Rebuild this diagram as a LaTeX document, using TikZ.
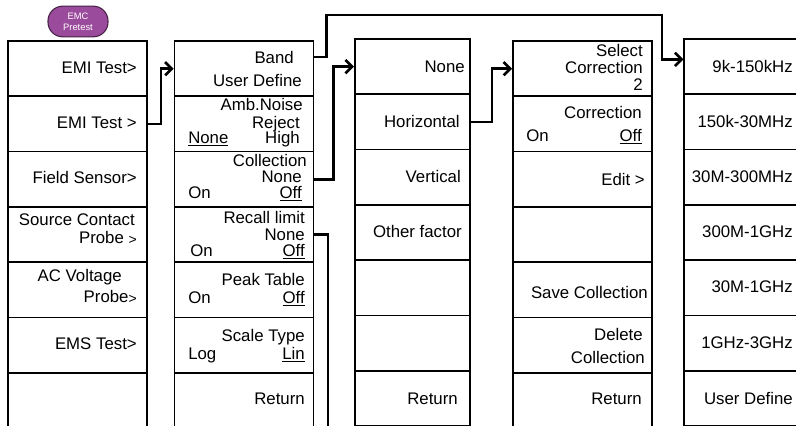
\documentclass[tikz,border=0pt]{standalone}
\usepackage{fontspec}
\setmainfont{Liberation Sans}
\usetikzlibrary{arrows.meta,positioning}
\definecolor{emcfill}{RGB}{155,75,155}
\definecolor{emcline}{RGB}{70,35,70}
\newcommand{\smallgt}{{\fontsize{10.5}{12}\selectfont\raisebox{-1pt}{>}}}

\begin{document}
\begin{tikzpicture}[x=0.75pt, y=-0.75pt,
    cell/.style={draw, line width=1.3pt, minimum height=41.5pt, inner sep=0pt},
    wide/.style={cell, minimum width=104.25pt},
    narrow/.style={cell, minimum width=86.5pt},
    rt/.style={anchor=mid east, inner sep=0pt, font=\fontsize{12.6}{14}\selectfont},
    lt/.style={anchor=mid west, inner sep=0pt, font=\fontsize{12.6}{14}\selectfont},
    link/.style={line width=2pt, -{Straight Barb[length=5pt, width=10pt]}},
    softkey/.style={draw=emcline, fill=emcfill, line width=0.8pt, rounded corners=11pt, minimum width=45pt, minimum height=23pt, inner sep=0pt, align=center, text=white, font=\fontsize{7}{8.5}\selectfont}
]
\useasboundingbox (0,0) rectangle (796,425);
\node[softkey] (emc) at (78,21.5) {EMC\\Pretest};
\node[wide] (c1r1) at (77.5,68.65) {};
\node[wide] (c1r2) at (77.5,123.95) {};
\node[wide] (c1r3) at (77.5,179.25) {};
\node[wide] (c1r4) at (77.5,234.55) {};
\node[wide] (c1r5) at (77.5,289.85) {};
\node[wide] (c1r6) at (77.5,345.15) {};
\node[wide] (c1r7) at (77.5,400.45) {};
\node[wide] (c2r1) at (244,68.65) {};
\node[wide] (c2r2) at (244,123.95) {};
\node[wide] (c2r3) at (244,179.25) {};
\node[wide] (c2r4) at (244,234.55) {};
\node[wide] (c2r5) at (244,289.85) {};
\node[wide] (c2r6) at (244,345.15) {};
\node[wide] (c2r7) at (244,400.45) {};
\node[narrow] (c3r1) at (412.5,66.65) {};
\node[narrow] (c3r2) at (412.5,121.95) {};
\node[narrow] (c3r3) at (412.5,177.25) {};
\node[narrow] (c3r4) at (412.5,232.55) {};
\node[narrow] (c3r5) at (412.5,287.85) {};
\node[narrow] (c3r6) at (412.5,343.15) {};
\node[narrow] (c3r7) at (412.5,398.45) {};
\node[wide] (c4r1) at (582.5,68.65) {};
\node[wide] (c4r2) at (582.5,123.95) {};
\node[wide] (c4r3) at (582.5,179.25) {};
\node[wide] (c4r4) at (582.5,234.55) {};
\node[wide] (c4r5) at (582.5,289.85) {};
\node[wide] (c4r6) at (582.5,345.15) {};
\node[wide] (c4r7) at (582.5,400.45) {};
\node[narrow] (c5r1) at (742,66.65) {};
\node[narrow] (c5r2) at (742,121.95) {};
\node[narrow] (c5r3) at (742,177.25) {};
\node[narrow] (c5r4) at (742,232.55) {};
\node[narrow] (c5r5) at (742,287.85) {};
\node[narrow] (c5r6) at (742,343.15) {};
\node[narrow] (c5r7) at (742,398.45) {};

\node[rt] at (137,70) {EMI Test>};
\node[rt] at (137,124.5) {EMI Test >};
\node[rt] at (137,180) {Field Sensor>};
\node[rt] at (135,222) {Source Contact};
\node[rt] at (137,240) {Probe \smallgt};
\node[rt] at (122,278) {AC Voltage};
\node[rt] at (137,299) {Probe\smallgt};
\node[rt] at (137,346) {EMS Test>};

\node[rt] (band) at (294,59.5) {Band};
\node[rt] at (302,83) {User Define};
\node[rt] at (303,107) {Amb.Noise};
\node[rt] at (300,124.5) {Reject};
\node[lt] at (188,140) {\underline{None}};
\node[rt] at (300,140) {High};
\node[rt] at (307,163) {Collection};
\node[rt] at (302,178.5) {None};
\node[lt] at (188,195) {On};
\node[rt] at (302,195) {\underline{Off}};
\node[rt] at (305,220) {Recall limit};
\node[rt] (rlnone) at (305,237) {None};
\node[lt] at (190,253) {On};
\node[rt] at (305,253) {\underline{Off}};
\node[rt] at (305,282) {Peak Table};
\node[lt] at (188,300) {On};
\node[rt] at (305,300) {\underline{Off}};
\node[rt] at (305,338) {Scale Type};
\node[lt] at (188,356) {Log};
\node[rt] at (305,356) {\underline{Lin}};
\node[rt] at (305,401) {Return};

\node[rt] at (465,69) {None};
\node[rt] at (460,124) {Horizontal};
\node[rt] at (461,179) {Vertical};
\node[rt] at (462,234) {Other factor};
\node[rt] at (458,401) {Return};

\node[rt] at (643,53) {Select};
\node[rt] at (643,70) {Correction};
\node[rt] at (643,87) {2};
\node[rt] at (642,115) {Correction};
\node[lt] at (526,138) {On};
\node[rt] at (642,138) {\underline{Off}};
\node[rt] at (645,182) {Edit >};
\node[rt] at (648,295) {Save Collection};
\node[rt] at (643,337) {Delete};
\node[rt] at (645,360) {Collection};
\node[rt] at (642,401) {Return};

\node[rt] at (793,69) {9k-150kHz};
\node[rt] at (793,124) {150k-30MHz};
\node[rt] at (793,179) {30M-300MHz};
\node[rt] at (793,234) {300M-1GHz};
\node[rt] at (793,289) {30M-1GHz};
\node[rt] at (793,345) {1GHz-3GHz};
\node[rt] at (793,401) {User Define};

\coordinate (rlend) at (328,432);
\draw[link] (c1r2.east) -- ++(13,0) |- (c2r1.west);
\draw[link] (c2r1.east |- band) -- ++(12,0) |- (662,15) |- ([yshift=5.5pt]c5r1.west);
\draw[link] (c2r3.east) -- ++(19,0) |- (c3r1.west);
\draw[link] (c3r2.east) -- ++(21,0) |- (c4r1.west);
\draw[line width=2pt] (c2r4.east |- rlnone) -| (rlend);
\end{tikzpicture}
\end{document}
